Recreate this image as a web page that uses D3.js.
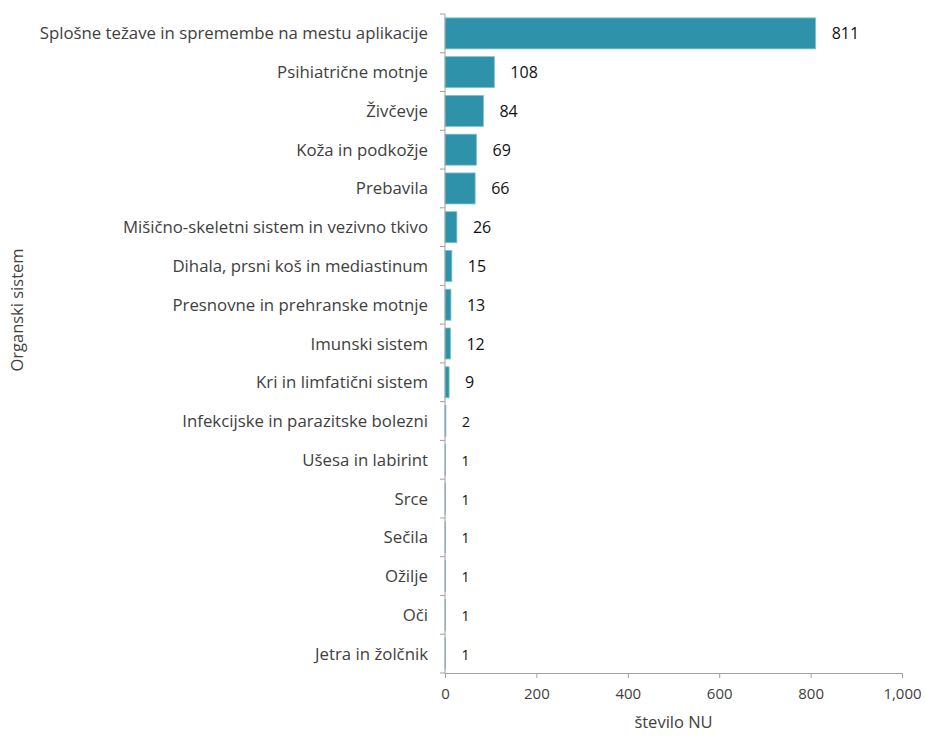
<!DOCTYPE html>
<html>
<head>
<meta charset="utf-8">
<script src="https://cdn.jsdelivr.net/npm/d3@7"></script>
<style>
  body { margin: 0; background: #fff; }
  text { font-family: "Open Sans", "Noto Sans", sans-serif; }
</style>
</head>
<body>
<div id="chart"></div>
<script>
const categories = [
  "Splošne težave in spremembe na mestu aplikacije",
  "Psihiatrične motnje",
  "Živčevje",
  "Koža in podkožje",
  "Prebavila",
  "Mišično-skeletni sistem in vezivno tkivo",
  "Dihala, prsni koš in mediastinum",
  "Presnovne in prehranske motnje",
  "Imunski sistem",
  "Kri in limfatični sistem",
  "Infekcijske in parazitske bolezni",
  "Ušesa in labirint",
  "Srce",
  "Sečila",
  "Ožilje",
  "Oči",
  "Jetra in žolčnik"
];
const counts = [811, 108, 84, 69, 66, 26, 15, 13, 12, 9, 2, 1, 1, 1, 1, 1, 1];
const xTicks = [0, 200, 400, 600, 800, 1000];

const width = 925, height = 736;
const margin = {top: 14, right: 23, bottom: 63, left: 445};
const w = width - margin.left - margin.right;
const h = height - margin.top - margin.bottom;

const svg = d3.select("#chart").append("svg")
  .attr("width", width)
  .attr("height", height);

const chart = svg.append("g")
  .attr("transform", `translate(${margin.left},${margin.top})`);

const x = d3.scaleLinear().domain([0, 1000]).range([0, w]);
const y = d3.scaleBand().domain(categories).range([0, h]).paddingInner(0.2).paddingOuter(0.1);

// bars
chart.selectAll(".bar")
  .data(categories)
  .enter().append("rect")
  .attr("class", "bar")
  .attr("x", 0)
  .attr("y", d => y(d))
  .attr("width", (d, i) => x(counts[i]))
  .attr("height", y.bandwidth())
  .attr("fill", "#2e93aa")
  .attr("stroke", "#7fc3d3")
  .attr("stroke-width", 0.8);

// value labels
chart.selectAll(".val")
  .data(categories)
  .enter().append("text")
  .attr("class", "val")
  .attr("x", (d, i) => x(counts[i]) + 16)
  .attr("y", d => y(d) + y.bandwidth() / 2 + 6)
  .attr("font-size", (d, i) => counts[i] < 5 ? 14 : 16)
  .attr("fill", "#111")
  .text((d, i) => counts[i]);

// y axis: line with ticks at band boundaries
const axisColor = "#a0a0a0";
chart.append("line")
  .attr("x1", 0).attr("x2", 0)
  .attr("y1", 0).attr("y2", h)
  .attr("stroke", axisColor);
d3.range(categories.length + 1).forEach(i => {
  chart.append("line")
    .attr("x1", -5).attr("x2", 0)
    .attr("y1", i * h / categories.length).attr("y2", i * h / categories.length)
    .attr("stroke", axisColor);
});
chart.selectAll(".ylab")
  .data(categories)
  .enter().append("text")
  .attr("class", "ylab")
  .attr("x", -17)
  .attr("y", d => y(d) + y.bandwidth() / 2 + 6)
  .attr("text-anchor", "end")
  .attr("font-size", 16.8)
  .attr("fill", "#404040")
  .text(d => d);

// x axis
const xAxis = d3.axisBottom(x)
  .tickValues(xTicks)
  .tickSize(5)
  .tickSizeOuter(0)
  .tickFormat(d3.format(","));
const xg = chart.append("g")
  .attr("transform", `translate(0,${h})`)
  .call(xAxis);
xg.select(".domain").attr("stroke", axisColor);
xg.selectAll(".tick line").attr("stroke", axisColor);
xg.selectAll(".tick text")
  .attr("font-size", 15)
  .attr("fill", "#404040")
  .attr("dy", "1.2em")
  .style("font-family", "'Open Sans', sans-serif");

// axis titles
svg.append("text")
  .attr("x", margin.left + w / 2)
  .attr("y", 728)
  .attr("text-anchor", "middle")
  .attr("font-size", 16.5)
  .attr("fill", "#404040")
  .text("število NU");

svg.append("text")
  .attr("transform", `translate(23,${310}) rotate(-90)`)
  .attr("text-anchor", "middle")
  .attr("font-size", 16.5)
  .attr("fill", "#404040")
  .text("Organski sistem");
</script>
</body>
</html>
